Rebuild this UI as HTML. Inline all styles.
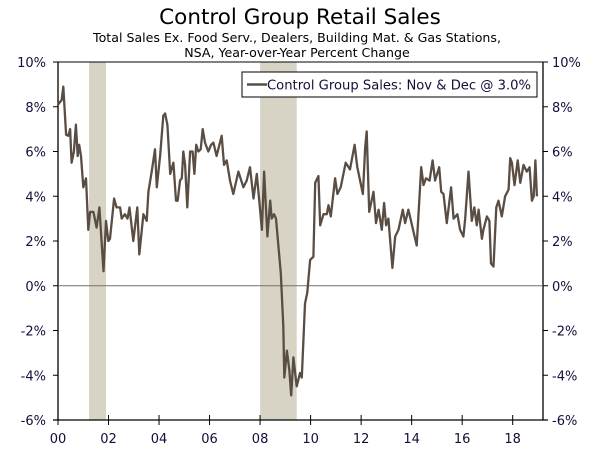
<!DOCTYPE html>
<html><head><meta charset="utf-8">
<style>
html,body{margin:0;padding:0;background:#fff;}
body{width:600px;height:452px;overflow:hidden;font-family:"DejaVu Sans","Liberation Sans",sans-serif;}
</style></head>
<body>
<svg id="chart" width="600" height="452" viewBox="0 0 600 452" xmlns="http://www.w3.org/2000/svg">
<text x="300" y="24" text-anchor="middle" font-size="21.5" fill="#000" font-family="DejaVu Sans, sans-serif">Control Group Retail Sales</text>
<text x="297" y="42" text-anchor="middle" font-size="12.6" fill="#000" font-family="DejaVu Sans, sans-serif">Total Sales Ex. Food Serv., Dealers, Building Mat. &amp; Gas Stations,</text>
<text x="297" y="57" text-anchor="middle" font-size="12.6" fill="#000" font-family="DejaVu Sans, sans-serif">NSA, Year-over-Year Percent Change</text>
<g id="rec"></g>
<g id="axes"></g>
<g id="series"></g>
<g>
<rect x="242" y="72" width="295" height="25" fill="#fff" stroke="#000" stroke-width="1"/>
<line x1="247" y1="84.5" x2="267" y2="84.5" stroke="#5a4e44" stroke-width="2.5"/>
<text x="267" y="89.5" font-size="13" fill="#101038" font-family="DejaVu Sans, sans-serif" textLength="264" lengthAdjust="spacingAndGlyphs">Control Group Sales: Nov &amp; Dec @ 3.0%</text>
</g>
</svg>
<script>
const years = [2000.0,2000.145,2000.21,2000.32,2000.41,2000.48,2000.54,2000.63,2000.71,2000.78,2000.84,2000.91,2001.0,2001.11,2001.2,2001.27,2001.4,2001.53,2001.64,2001.8,2001.9,2001.99,2002.06,2002.22,2002.32,2002.46,2002.52,2002.65,2002.75,2002.83,2002.98,2003.14,2003.22,2003.38,2003.51,2003.58,2003.71,2003.84,2003.91,2004.04,2004.17,2004.24,2004.33,2004.44,2004.57,2004.67,2004.74,2004.83,2004.9,2004.96,2005.03,2005.12,2005.23,2005.33,2005.4,2005.47,2005.56,2005.65,2005.73,2005.82,2005.95,2006.06,2006.15,2006.28,2006.39,2006.48,2006.57,2006.68,2006.81,2006.94,2007.14,2007.34,2007.47,2007.6,2007.74,2007.87,2008.07,2008.16,2008.29,2008.4,2008.46,2008.55,2008.63,2008.82,2008.92,2008.96,2009.06,2009.16,2009.23,2009.32,2009.45,2009.58,2009.65,2009.78,2009.87,2009.98,2010.11,2010.18,2010.31,2010.38,2010.51,2010.64,2010.71,2010.8,2010.97,2011.06,2011.19,2011.39,2011.56,2011.74,2011.85,2012.07,2012.16,2012.22,2012.32,2012.49,2012.59,2012.69,2012.82,2012.91,2012.99,2013.08,2013.24,2013.35,2013.48,2013.65,2013.74,2013.87,2014.2,2014.38,2014.47,2014.57,2014.71,2014.83,2014.93,2015.09,2015.17,2015.26,2015.39,2015.56,2015.66,2015.81,2015.92,2016.05,2016.12,2016.25,2016.38,2016.48,2016.58,2016.65,2016.78,2016.84,2016.98,2017.08,2017.14,2017.24,2017.35,2017.44,2017.57,2017.7,2017.84,2017.9,2017.97,2018.07,2018.2,2018.3,2018.43,2018.56,2018.67,2018.76,2018.83,2018.9,2018.96];
const values = [8.1,8.3,8.9,6.75,6.7,7.0,5.5,6.0,7.2,5.8,6.3,5.8,4.4,4.8,2.5,3.3,3.3,2.6,3.5,0.65,2.9,2.0,2.1,3.9,3.5,3.5,3.0,3.2,3.0,3.5,2.0,3.5,1.4,3.2,2.9,4.2,5.1,6.1,4.4,5.8,7.6,7.7,7.2,5.0,5.5,3.8,3.8,4.7,4.8,6.0,5.4,3.5,6.0,6.0,5.0,6.3,6.0,6.1,7.0,6.4,6.0,6.3,6.4,5.8,6.3,6.7,5.4,5.6,4.7,4.1,5.1,4.4,4.7,5.3,3.9,5.0,2.5,5.1,2.2,3.8,3.0,3.2,3.0,0.56,-1.8,-4.1,-2.9,-3.8,-4.9,-3.2,-4.5,-3.9,-4.1,-0.8,-0.3,1.15,1.3,4.6,4.9,2.7,3.2,3.2,3.6,3.1,4.8,4.1,4.4,5.5,5.2,6.3,5.3,4.1,6.2,6.9,3.3,4.2,2.8,3.4,2.5,3.7,2.7,3.0,0.8,2.2,2.5,3.4,2.8,3.4,1.8,5.3,4.5,4.8,4.7,5.6,4.7,5.3,4.2,4.1,2.8,4.4,3.0,3.2,2.5,2.2,3.0,5.1,2.9,3.5,2.7,3.4,2.1,2.5,3.1,2.9,1.0,0.86,3.5,3.8,3.1,4.0,4.3,5.7,5.5,4.5,5.6,4.6,5.4,5.1,5.3,3.8,4.0,5.6,4.0,3.0];
const yTicks = [10,8,6,4,2,0,-2,-4,-6];
const yTickLabels = ["10%","8%","6%","4%","2%","0%","-2%","-4%","-6%"];
const xTicks = [2000,2002,2004,2006,2008,2010,2012,2014,2016,2018];
const xTickLabels = ["00","02","04","06","08","10","12","14","16","18"];
const recStarts = [2001.23,2008.0];
const recEnds = [2001.9,2009.45];

const NS="http://www.w3.org/2000/svg";
const L=58,R=543,T=62,B=420;
const xMin=2000,xMax=2019.2,yMin=-6,yMax=10;
function X(v){return L+(v-xMin)/(xMax-xMin)*(R-L);}
function Y(v){return B-(v-yMin)/(yMax-yMin)*(B-T);}
function mk(tag,attrs,parent){const e=document.createElementNS(NS,tag);for(const k in attrs)e.setAttribute(k,attrs[k]);parent.appendChild(e);return e;}

const rec=document.getElementById('rec');
for(let i=0;i<recStarts.length;i++){
  const r=mk('rect',{x:X(recStarts[i]),y:T,width:X(recEnds[i])-X(recStarts[i]),height:B-T,fill:'#d7d4c5'},rec);
  
  
}
const ax=document.getElementById('axes');
let e;
e=mk('line',{x1:L-5,y1:T,x2:R+5,y2:T,stroke:'#000','stroke-width':1},ax);


e=mk('line',{x1:L,y1:T,x2:L,y2:B,stroke:'#000','stroke-width':1.3},ax);


e=mk('line',{x1:R,y1:T,x2:R,y2:B,stroke:'#000','stroke-width':1.3},ax);


e=mk('line',{x1:L-5,y1:B,x2:R+5,y2:B,stroke:'#000','stroke-width':1.3},ax);


e=mk('line',{x1:L,y1:Y(0),x2:R,y2:Y(0),stroke:'#7a6e64','stroke-width':1},ax);


for(let i=0;i<yTicks.length;i++){
  const y=Y(yTicks[i]);
  e=mk('line',{x1:L-5,y1:y,x2:L,y2:y,stroke:'#000','stroke-width':1},ax);
  
  
  e=mk('line',{x1:R,y1:y,x2:R+5,y2:y,stroke:'#000','stroke-width':1},ax);
  
  
  e=mk('text',{x:46,y:y+5,'text-anchor':'end','font-size':'13',fill:'#101038'},ax);
  e.textContent=yTickLabels[i];
  
  
  e=mk('text',{x:552,y:y+5,'text-anchor':'start','font-size':'13',fill:'#101038'},ax);
  e.textContent=yTickLabels[i];
  
  
}
for(let i=0;i<xTicks.length;i++){
  const x=X(xTicks[i]);
  e=mk('line',{x1:x,y1:B-5,x2:x,y2:B+5,stroke:'#000','stroke-width':1},ax);
  
  
  e=mk('text',{x:x,y:443,'text-anchor':'middle','font-size':'13',fill:'#101038'},ax);
  e.textContent=xTickLabels[i];
  
  
}
const s=document.getElementById('series');
let d='';
for(let i=0;i<years.length;i++){d+=(i?'L':'M')+X(years[i]).toFixed(1)+','+Y(values[i]).toFixed(1);}
e=mk('path',{d:d,fill:'none',stroke:'#5a4e44','stroke-width':2.3,'stroke-linejoin':'round'},s);


</script>
</body></html>
